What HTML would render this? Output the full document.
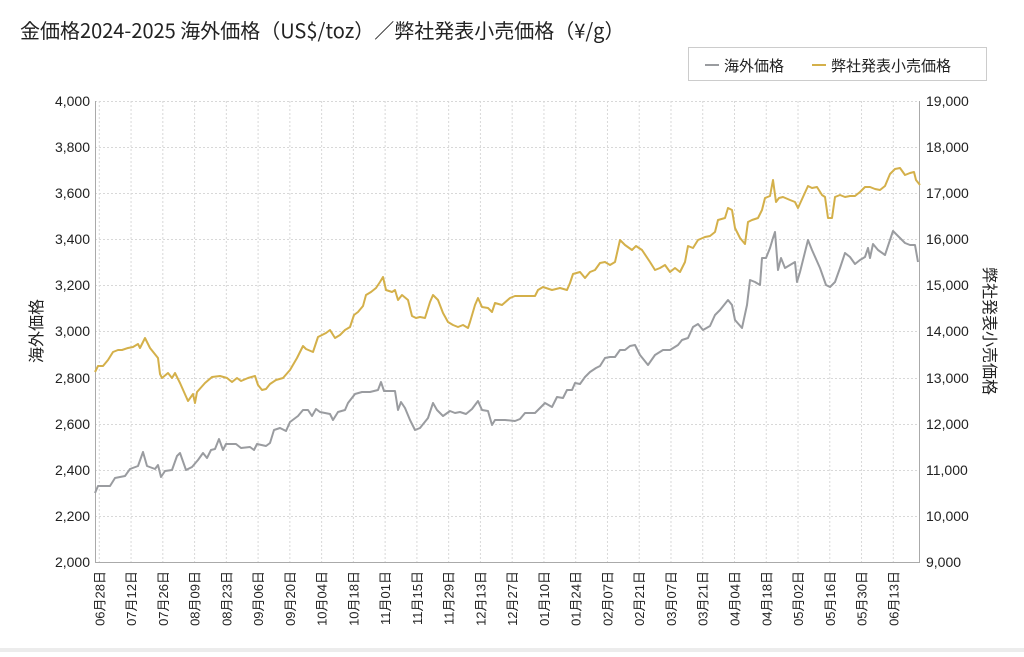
<!DOCTYPE html>
<html><head><meta charset="utf-8"><style>
body{margin:0;background:#fff;font-family:"Liberation Sans","Noto Sans CJK JP",sans-serif;}
</style></head><body>
<svg width="1024" height="652" xmlns="http://www.w3.org/2000/svg" font-family="Liberation Sans, Noto Sans CJK JP, sans-serif">
<rect x="0" y="0" width="1024" height="652" fill="#fff"/>
<rect x="0" y="648" width="1024" height="4" fill="#ececec"/>
<text x="20" y="38" font-size="20" fill="#222" font-family="Noto Sans CJK JP, sans-serif">金価格2024-2025 海外価格（US$/toz）／弊社発表小売価格（¥/g）</text>
<rect x="688.5" y="47.5" width="298" height="33" fill="#fff" stroke="#ccc"/>
<line x1="705" y1="65" x2="719" y2="65" stroke="#9a9ca0" stroke-width="2"/>
<text x="724" y="71" font-size="15" fill="#222" font-family="Noto Sans CJK JP, sans-serif">海外価格</text>
<line x1="812" y1="65" x2="826" y2="65" stroke="#d4b04a" stroke-width="2"/>
<text x="831" y="71" font-size="15" fill="#222" font-family="Noto Sans CJK JP, sans-serif">弊社発表小売価格</text>
<g stroke="#d8d8d8" stroke-dasharray="2,2" stroke-width="1">
<line x1="95" x2="920" y1="101.5" y2="101.5"/><line x1="95" x2="920" y1="147.5" y2="147.5"/><line x1="95" x2="920" y1="193.5" y2="193.5"/><line x1="95" x2="920" y1="239.5" y2="239.5"/><line x1="95" x2="920" y1="285.5" y2="285.5"/><line x1="95" x2="920" y1="331.5" y2="331.5"/><line x1="95" x2="920" y1="378.5" y2="378.5"/><line x1="95" x2="920" y1="424.5" y2="424.5"/><line x1="95" x2="920" y1="470.5" y2="470.5"/><line x1="95" x2="920" y1="516.5" y2="516.5"/>
</g>
<g id="vg" stroke="#d8d8d8" stroke-dasharray="2,2" stroke-width="1"></g>
<line x1="95.5" y1="101" x2="95.5" y2="562" stroke="#aaa"/>
<line x1="919.5" y1="101" x2="919.5" y2="562" stroke="#aaa"/>
<line x1="95" y1="562.5" x2="920" y2="562.5" stroke="#aaa"/>
<g font-size="14" fill="#222" text-anchor="end">
<text x="90" y="106">4,000</text><text x="90" y="152">3,800</text><text x="90" y="198">3,600</text><text x="90" y="244">3,400</text><text x="90" y="290">3,200</text><text x="90" y="336">3,000</text><text x="90" y="383">2,800</text><text x="90" y="429">2,600</text><text x="90" y="475">2,400</text><text x="90" y="521">2,200</text><text x="90" y="567">2,000</text>
</g>
<g font-size="14" fill="#222">
<text x="926" y="106">19,000</text><text x="926" y="152">18,000</text><text x="926" y="198">17,000</text><text x="926" y="244">16,000</text><text x="926" y="290">15,000</text><text x="926" y="336">14,000</text><text x="926" y="383">13,000</text><text x="926" y="429">12,000</text><text x="926" y="475">11,000</text><text x="926" y="521">10,000</text><text x="926" y="567">9,000</text>
</g>
<text transform="translate(42,331) rotate(-90)" font-size="16" fill="#222" text-anchor="middle">海外価格</text>
<text transform="translate(984,331) rotate(90)" font-size="16" fill="#222" text-anchor="middle">弊社発表小売価格</text>
<g id="xl" font-size="13" fill="#222" text-anchor="end"></g>
<polyline fill="none" stroke="#9a9ca0" stroke-width="2" stroke-linejoin="round" points="95,493 98,486 110,486 115,478 125,476 130,469 138,466 143,452 147,466 155,469 158,465 161,477 165,471 172,470 177,456 180,453 186,470 192,467 198,460 203,453 207,458 211,450 215,449 219,439 223,450 226,444 236,444 241,448 250,447 254,450 257,444 266,446 270,443 274,430 280,428 286,431 290,422 298,416 303,410 308,410 312,416 316,409 320,412 330,414 333,420 338,412 345,410 348,403 355,394 362,392 370,392 378,390 381,382 384,391 395,391 398,410 401,402 405,408 410,420 415,430 420,428 428,418 433,403 437,410 443,416 450,411 455,413 460,412 466,414 472,409 478,401 482,410 488,411 492,425 495,420 505,420 515,421 520,419 525,413 535,413 538,410 545,403 552,407 557,397 563,398 567,390 572,390 575,383 580,384 585,377 590,372 596,368 600,366 605,358 610,357 615,357 620,350 625,350 630,346 635,345 640,355 648,365 655,355 663,350 670,350 678,345 682,340 688,338 693,327 698,324 703,330 710,326 715,315 720,310 724,305 728,300 732,305 735,320 742,328 747,305 750,280 755,282 760,285 762,258 766,258 770,248 773,238 775,232 778,270 781,258 785,268 790,265 795,262 797,282 800,272 808,240 812,250 820,268 826,285 830,287 835,282 840,268 845,253 850,257 855,264 860,260 865,257 868,248 870,258 873,244 878,250 885,255 890,240 893,231 900,238 905,243 910,245 915,245 918,262"/>
<polyline fill="none" stroke="#d4b04a" stroke-width="2" stroke-linejoin="round" points="95,372 98,366 103,366 108,360 113,352 118,350 122,350 128,348 133,347 138,344 140,348 145,338 150,348 158,358 160,374 162,378 168,373 172,378 175,373 180,383 184,392 188,401 193,394 195,403 197,392 205,383 212,377 220,376 227,378 232,382 237,378 241,381 248,378 255,376 258,385 262,390 266,389 270,384 276,380 283,378 290,370 297,358 303,346 306,349 313,352 318,337 322,335 326,333 330,330 335,338 340,335 345,330 350,327 354,315 358,312 363,306 366,295 371,292 376,288 380,282 383,277 386,290 392,292 395,290 398,300 402,295 408,300 412,316 416,318 420,317 425,318 430,302 433,295 438,300 443,313 448,322 453,325 458,327 463,325 468,328 470,322 475,305 478,298 482,307 488,308 492,312 495,303 502,305 510,298 515,296 525,296 535,296 538,290 543,287 552,290 560,288 567,290 570,283 573,274 580,272 585,278 590,272 595,270 600,263 605,262 610,265 615,262 620,240 625,245 632,250 636,246 642,250 650,262 655,270 660,268 665,265 670,272 675,268 680,272 685,262 688,246 693,248 698,240 705,237 710,236 715,232 718,220 725,218 728,208 732,210 735,228 740,238 745,244 748,222 752,220 758,218 762,210 765,198 770,196 773,180 776,202 779,198 783,197 790,200 795,202 798,208 803,197 808,186 812,188 817,187 822,195 825,197 828,218 832,218 835,197 840,195 845,197 850,196 855,196 860,192 865,187 870,187 875,189 880,190 885,186 890,174 895,169 900,168 905,175 910,173 914,172 916,180 920,185"/>
</svg>
<script>
var labels=["06月28日","07月12日","07月26日","08月09日","08月23日","09月06日","09月20日","10月04日","10月18日","11月01日","11月15日","11月29日","12月13日","12月27日","01月10日","01月24日","02月07日","02月21日","03月07日","03月21日","04月04日","04月18日","05月02日","05月16日","05月30日","06月13日"];
var ns="http://www.w3.org/2000/svg",vg=document.getElementById("vg"),xl=document.getElementById("xl");
labels.forEach(function(l,i){var x=99.3+31.76*i;
var ln=document.createElementNS(ns,"line");ln.setAttribute("x1",x);ln.setAttribute("x2",x);ln.setAttribute("y1",101);ln.setAttribute("y2",562);vg.appendChild(ln);
var t=document.createElementNS(ns,"text");t.setAttribute("transform","translate("+(x+5)+",571) rotate(-90)");t.textContent=l;xl.appendChild(t);});
</script>
</body></html>
